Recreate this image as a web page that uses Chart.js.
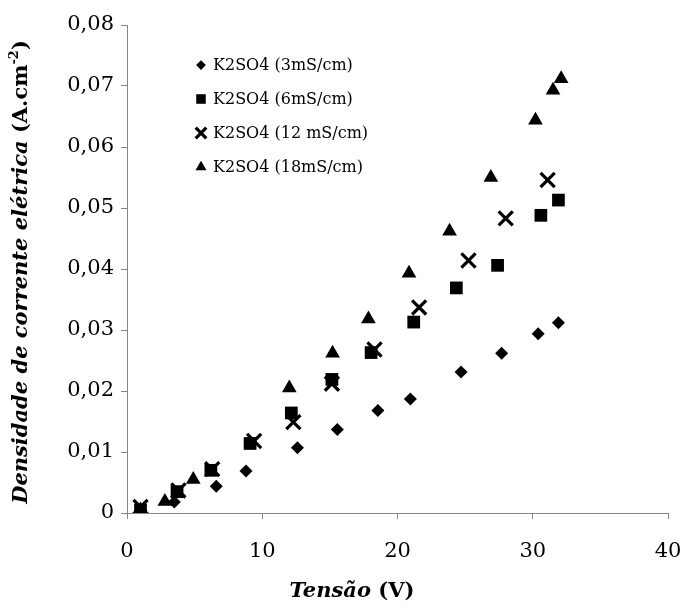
<!DOCTYPE html>
<html>
<head>
<meta charset="utf-8">
<script src="https://cdn.jsdelivr.net/npm/chart.js@4.4.1/dist/chart.umd.min.js"></script>
<style>
  html, body { margin: 0; padding: 0; background: #fff; }
  #wrap { width: 683px; height: 611px; position: relative; }
</style>
</head>
<body>
<div id="wrap"><canvas id="chart" width="683" height="611"></canvas></div>
<script>
// series labels
const seriesNames = ['K2SO4 (3mS/cm)', 'K2SO4 (6mS/cm)', 'K2SO4 (12 mS/cm)', 'K2SO4 (18mS/cm)'];

// voltage (V) and current density (A.cm-2)
const v3 = [1.0, 3.5, 6.6, 8.8, 12.6, 15.55, 18.55, 20.95, 24.7, 27.7, 30.4, 31.9];
const j3 = [0.0005, 0.0018, 0.0044, 0.0069, 0.0107, 0.0137, 0.0168, 0.0187, 0.0231, 0.0262, 0.0294, 0.0312];

const v6 = [1.0, 3.7, 6.2, 9.1, 12.15, 15.15, 18.05, 21.2, 24.35, 27.4, 30.6, 31.9];
const j6 = [0.0005, 0.0035, 0.0070, 0.0114, 0.0164, 0.0219, 0.0263, 0.0313, 0.0369, 0.0406, 0.0488, 0.0513];

const v12 = [1.0, 3.8, 6.3, 9.4, 12.3, 15.15, 18.3, 21.6, 25.25, 28.0, 31.1];
const j12 = [0.0010, 0.0037, 0.0072, 0.0118, 0.0149, 0.0212, 0.0268, 0.0337, 0.0414, 0.0483, 0.0546];

const v18 = [1.0, 2.8, 4.9, 12.0, 15.2, 17.85, 20.85, 23.85, 26.9, 30.2, 31.5, 32.1];
const j18 = [0.0005, 0.0019, 0.0055, 0.0205, 0.0262, 0.0318, 0.0393, 0.0462, 0.0550, 0.0644, 0.0693, 0.0712];

// axis ticks
const xTicks = [0, 10, 20, 30, 40];
const yTicks = [0, 0.01, 0.02, 0.03, 0.04, 0.05, 0.06, 0.07, 0.08];

const SERIF = '"DejaVu Serif", serif';
const AXIS_GREY = '#868686';

function toPoints(xs, ys) {
    return xs.map((x, i) => ({ x: x, y: ys[i] }));
}

const markers = [
    { pointStyle: 'rectRot', radius: 6.5, borderWidth: 0 },
    { pointStyle: 'rect', radius: 9, borderWidth: 0 },
    { pointStyle: 'crossRot', radius: 10, borderWidth: 3.2 },
    { pointStyle: 'triangle', radius: 8.5, borderWidth: 0 }
];

const allData = [toPoints(v3, j3), toPoints(v6, j6), toPoints(v12, j12), toPoints(v18, j18)];

const datasets = allData.map((d, i) => ({
    label: seriesNames[i],
    data: d,
    showLine: false,
    pointStyle: markers[i].pointStyle,
    pointRadius: markers[i].radius,
    pointBorderWidth: markers[i].borderWidth,
    pointBackgroundColor: '#000',
    pointBorderColor: '#000'
}));

// legend drawn inside the plot, top-left
const legendPlugin = {
    id: 'innerLegend',
    afterDraw(chart) {
        const ctx = chart.ctx;
        const rowY = [65, 99, 133, 167];
        ctx.save();
        ctx.font = '16px ' + SERIF;
        ctx.textBaseline = 'middle';
        ctx.textAlign = 'left';
        seriesNames.forEach((name, i) => {
            ctx.fillStyle = '#000';
            ctx.strokeStyle = '#000';
            const m = markers[i];
            ctx.lineWidth = m.borderWidth;
            Chart.helpers.drawPoint(ctx, {
                pointStyle: m.pointStyle,
                radius: m.radius * 0.75,
                borderWidth: m.borderWidth * 0.8,
                rotation: 0
            }, 201, rowY[i]);
            ctx.fillStyle = '#000';
            ctx.fillText(name, 213, rowY[i] + 1);
        });
        ctx.restore();
    }
};

// axis titles with mixed italic / upright parts
function drawRuns(ctx, runs, cx, cy) {
    let total = 0;
    runs.forEach(r => { ctx.font = r.font; r.w = ctx.measureText(r.text).width; total += r.w; });
    let x = cx - total / 2;
    runs.forEach(r => {
        ctx.font = r.font;
        ctx.fillText(r.text, x, cy + (r.dy || 0));
        x += r.w;
    });
}

const titlePlugin = {
    id: 'axisTitles',
    afterDraw(chart) {
        const ctx = chart.ctx;
        ctx.save();
        ctx.fillStyle = '#000';
        ctx.textBaseline = 'middle';
        ctx.textAlign = 'left';
        const bi = 'italic bold 21px ' + SERIF;
        const b = 'bold 21px ' + SERIF;
        drawRuns(ctx, [
            { text: 'Tensão', font: bi },
            { text: ' (V)', font: b }
        ], 352, 592);

        ctx.translate(22, 272);
        ctx.rotate(-Math.PI / 2);
        drawRuns(ctx, [
            { text: 'Densidade de corrente elétrica ', font: bi },
            { text: '(A.cm', font: b },
            { text: '-2', font: 'bold 13px ' + SERIF, dy: -7 },
            { text: ')', font: b }
        ], 0, 0);
        ctx.restore();
    }
};

new Chart(document.getElementById('chart'), {
    type: 'scatter',
    data: { datasets: datasets },
    options: {
        responsive: false,
        animation: false,
        devicePixelRatio: 1,
        layout: { padding: { top: 25, right: 15, left: 0, bottom: 0 } },
        plugins: {
            legend: { display: false },
            tooltip: { enabled: false }
        },
        scales: {
            x: {
                type: 'linear',
                min: xTicks[0],
                max: xTicks[xTicks.length - 1],
                afterBuildTicks: scale => { scale.ticks = xTicks.map(v => ({ value: v })); },
                afterFit: scale => {
                    scale.height = 98;
                    scale.paddingLeft = 0;
                    scale.paddingRight = 0;
                },
                border: { display: true, color: AXIS_GREY, width: 1 },
                grid: { drawOnChartArea: false, drawTicks: true, tickLength: 6, color: AXIS_GREY },
                ticks: {
                    color: '#000',
                    padding: 20,
                    maxRotation: 0,
                    font: { family: SERIF, size: 21 }
                }
            },
            y: {
                type: 'linear',
                min: yTicks[0],
                max: yTicks[yTicks.length - 1],
                afterBuildTicks: scale => { scale.ticks = yTicks.map(v => ({ value: v })); },
                afterFit: scale => { scale.width = 127; },
                border: { display: true, color: AXIS_GREY, width: 1 },
                grid: { drawOnChartArea: false, drawTicks: true, tickLength: 6, color: AXIS_GREY },
                ticks: {
                    color: '#000',
                    padding: 7,
                    font: { family: SERIF, size: 21 },
                    callback: v => v === 0 ? '0' : v.toFixed(2).replace('.', ',')
                }
            }
        }
    },
    plugins: [legendPlugin, titlePlugin]
});
</script>
</body>
</html>
